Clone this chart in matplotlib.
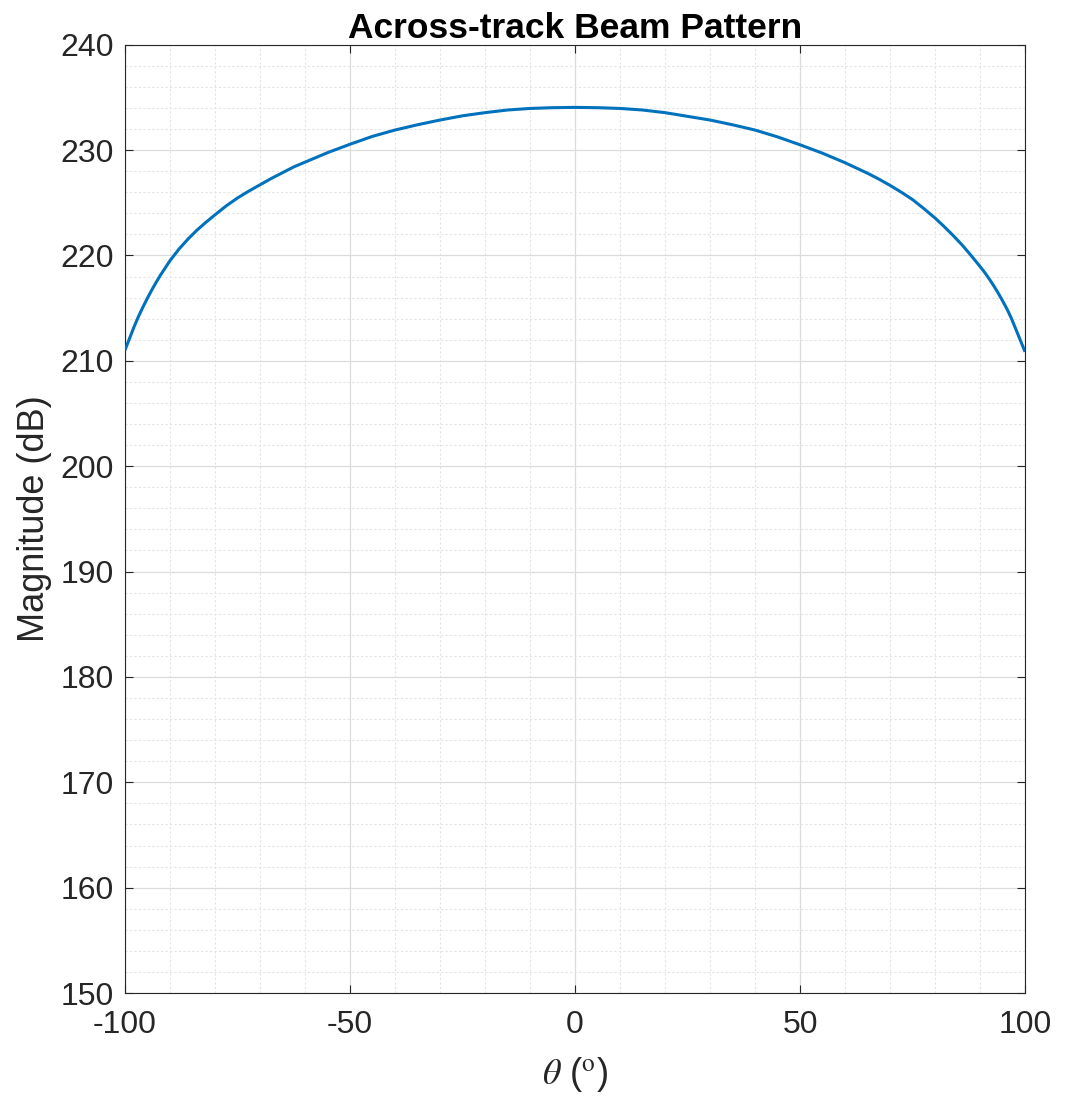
import matplotlib
matplotlib.use("Agg")
import matplotlib.pyplot as plt
from matplotlib.ticker import MultipleLocator

plt.rcParams['font.family'] = ['Liberation Sans', 'DejaVu Sans']
plt.rcParams['mathtext.fontset'] = 'stix'

# Data
theta_deg = [-100, -99, -98, -97, -96, -95, -94, -93, -92, -91, -90, -88, -86, -84, -82,
             -80, -77.5, -75, -72.5, -70, -67.5, -65, -62.5, -60, -55, -50, -45, -40,
             -35, -30, -25, -20, -15, -10, -5, 0,
             5, 10, 15, 20, 25, 30, 35, 40, 45, 50, 55, 60, 62.5, 65, 67.5, 70, 72.5,
             75, 77.5, 80, 82, 84, 86, 88, 90, 91, 92, 93, 94, 95, 96, 97, 98, 99, 100]
magnitude_db = [211.0, 212.1, 213.2, 214.2, 215.1, 215.95, 216.75, 217.5, 218.2, 218.85,
                219.5, 220.6, 221.55, 222.4, 223.15, 223.85, 224.7, 225.45, 226.1, 226.7,
                227.3, 227.85, 228.4, 228.85, 229.75, 230.55, 231.3, 231.9, 232.4, 232.85,
                233.25, 233.55, 233.8, 233.95, 234.02, 234.05,
                234.02, 233.95, 233.8, 233.55, 233.2, 232.85, 232.4, 231.9, 231.25, 230.5,
                229.7, 228.8, 228.3, 227.8, 227.25, 226.65, 226.0, 225.3, 224.45, 223.55,
                222.75, 221.9, 221.0, 220.0, 218.95, 218.4, 217.8, 217.15, 216.45,
                215.7, 214.9, 214.0, 212.95, 211.9, 210.85]
x_ticks = [-100, -50, 0, 50, 100]
y_ticks = [150, 160, 170, 180, 190, 200, 210, 220, 230, 240]

fig = plt.figure(figsize=(10.79, 10.98), dpi=100)
ax = fig.add_axes([0.1158, 0.0956, 0.8342, 0.8637])

ax.plot(theta_deg, magnitude_db, color='#0072BD', linewidth=2.2,
        solid_joinstyle='round', solid_capstyle='butt', zorder=3)

ax.set_xlim(-100, 100)
ax.set_ylim(150, 240)
ax.set_xticks(x_ticks)
ax.set_yticks(y_ticks)
ax.set_xticklabels([str(v) for v in x_ticks])
ax.xaxis.set_minor_locator(MultipleLocator(10))
ax.yaxis.set_minor_locator(MultipleLocator(2))

ax.grid(True, which='major', color='#dcdcdc', linewidth=0.9, linestyle='-')
ax.grid(True, which='minor', color='#e4e4e4', linewidth=0.8, linestyle=(0, (2, 2)))
ax.set_axisbelow(True)

ax.tick_params(which='major', direction='in', length=6, width=0.8,
               top=True, right=True, labelsize=23, colors='#262626')
ax.tick_params(axis='x', which='major', pad=12)
ax.tick_params(axis='y', which='major', pad=8)
ax.tick_params(which='minor', length=0, top=False, right=False)
for s in ax.spines.values():
    s.set_color('#262626')
    s.set_linewidth(0.8)

ax.set_title('Across-track Beam Pattern', fontsize=25.5, fontweight='bold', pad=5)
ax.set_ylabel('Magnitude (dB)', fontsize=26, color='#262626', labelpad=6)
ax.set_xlabel(r'$\theta$ ($^{\mathrm{o}}$)', fontsize=26, color='#262626', labelpad=11)

fig.savefig('out.png', dpi=100)
